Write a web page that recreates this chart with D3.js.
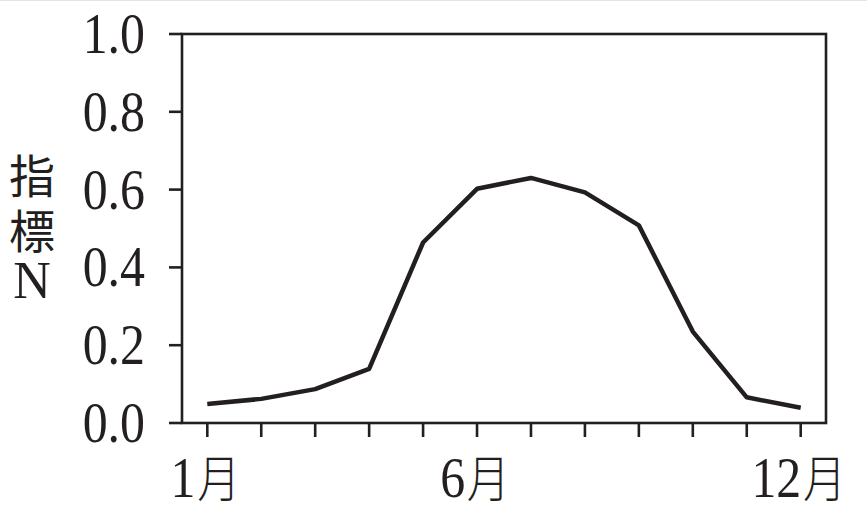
<!DOCTYPE html>
<html>
<head>
<meta charset="utf-8">
<script src="https://cdn.jsdelivr.net/npm/d3@7"></script>
<style>
  body { margin: 0; background: #fff; }
</style>
</head>
<body>
<svg width="867" height="523"></svg>
<script>
// monthly values of the index N
var months = [1, 2, 3, 4, 5, 6, 7, 8, 9, 10, 11, 12];
var values = [0.049, 0.062, 0.087, 0.139, 0.464, 0.602, 0.630, 0.593, 0.508, 0.235, 0.066, 0.039];
var yTicks = [0, 0.2, 0.4, 0.6, 0.8, 1.0];
var xLabels = [[1, "1月"], [6, "6月"], [12, "12月"]];
var yTitle = ["指", "標", "N"];

var svg = d3.select("svg"),
    ink = "#231f20",
    plotL = 182, plotR = 826, plotT = 34, plotB = 423;

var x = d3.scaleLinear().domain([1, 12]).range([207.3, 800.7]);
var y = d3.scaleLinear().domain([0, 1]).range([plotB, plotT]);

// faint edge at the top of the scan
svg.append("line").attr("x1", 0).attr("x2", 867).attr("y1", 0.5).attr("y2", 0.5)
  .attr("stroke", "#e4e4e4").attr("stroke-width", 1);

// frame
svg.append("rect")
  .attr("x", plotL).attr("y", plotT)
  .attr("width", plotR - plotL).attr("height", plotB - plotT)
  .attr("fill", "none").attr("stroke", ink).attr("stroke-width", 2.6);

// y ticks point outward
svg.selectAll(".yt").data(yTicks).enter().append("line")
  .attr("x1", plotL - 13).attr("x2", plotL)
  .attr("y1", function(d) { return y(d); })
  .attr("y2", function(d) { return y(d); })
  .attr("stroke", ink).attr("stroke-width", 2.6);

// y tick labels, condensed serif
svg.selectAll(".yl").data(yTicks).enter().append("text")
  .attr("transform", function(d) { return "translate(145," + (y(d) + 19) + ") scale(0.86,1)"; })
  .attr("text-anchor", "end")
  .attr("font-family", "'Liberation Serif', serif")
  .attr("font-size", 58)
  .attr("fill", ink)
  .text(function(d) { return d.toFixed(1); });

// x ticks point downward
svg.selectAll(".xt").data(months).enter().append("line")
  .attr("x1", function(d) { return x(d); })
  .attr("x2", function(d) { return x(d); })
  .attr("y1", plotB).attr("y2", plotB + 14)
  .attr("stroke", ink).attr("stroke-width", 2.6);

// x labels: number in serif, 月 in CJK
var xl = svg.selectAll(".xl").data(xLabels).enter().append("text")
  .attr("transform", function(d) { return "translate(" + (x(d[0]) - 2) + ",497) scale(0.86,1)"; })
  .attr("text-anchor", "middle")
  .attr("fill", ink);
xl.append("tspan")
  .attr("font-family", "'Liberation Serif', serif")
  .attr("font-size", 58)
  .text(function(d) { return d[1].replace("月", ""); });
xl.append("tspan")
  .attr("font-family", "'Noto Sans CJK JP', sans-serif")
  .attr("font-size", 50)
  .attr("font-weight", 300)
  .attr("dx", 2)
  .text("月");

// stacked y title
var ty = [193, 248, 298];
svg.selectAll(".ytitle").data(yTitle).enter().append("text")
  .attr("x", 32)
  .attr("y", function(d, i) { return ty[i]; })
  .attr("text-anchor", "middle")
  .attr("font-family", function(d) { return d == "N" ? "'Liberation Serif', serif" : "'Noto Sans CJK JP', sans-serif"; })
  .attr("font-size", function(d) { return d == "N" ? 52 : 46; })
  .attr("fill", ink)
  .text(function(d) { return d; });

// data line
var line = d3.line()
  .x(function(d, i) { return x(months[i]); })
  .y(function(d) { return y(d); });

svg.append("path")
  .datum(values)
  .attr("d", line)
  .attr("fill", "none")
  .attr("stroke", ink)
  .attr("stroke-width", 4.5)
  .attr("stroke-linejoin", "round");
</script>
</body>
</html>
